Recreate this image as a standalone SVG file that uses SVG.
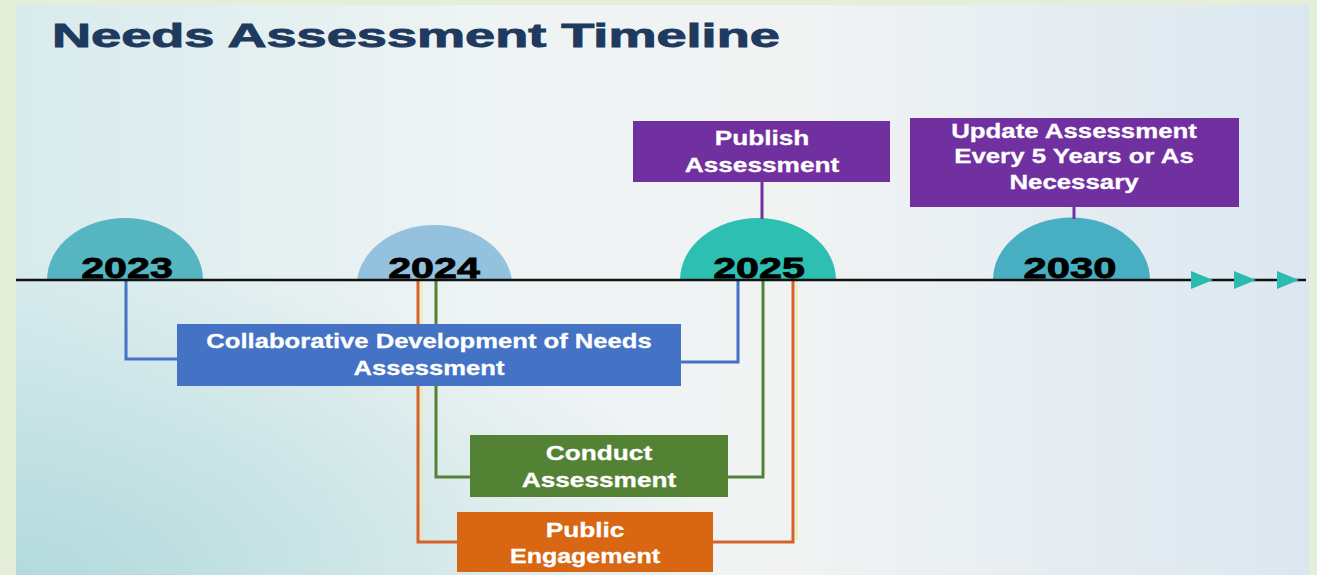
<svg xmlns="http://www.w3.org/2000/svg" width="1317" height="575" viewBox="0 0 1317 575">
  <defs>
    <linearGradient id="bgH" x1="0" y1="0" x2="1" y2="0">
      <stop offset="0" stop-color="#d8ebed"/>
      <stop offset="0.35" stop-color="#eef3f3"/>
      <stop offset="0.6" stop-color="#f1f3f3"/>
      <stop offset="1" stop-color="#dbe7f0"/>
    </linearGradient>
    <radialGradient id="bgTeal" cx="0" cy="1" r="0.55" gradientUnits="objectBoundingBox">
      <stop offset="0" stop-color="#acd7da" stop-opacity="0.85"/>
      <stop offset="1" stop-color="#acd7da" stop-opacity="0"/>
    </radialGradient>
    <style>
      .title { font-family: "Liberation Sans", Arial, sans-serif; font-weight: bold; font-size: 33px; fill: #1f3a5f; stroke: #1f3a5f; stroke-width: 0.9px; }
      .year { font-family: "Liberation Sans", Arial, sans-serif; font-weight: bold; font-size: 29px; fill: #000; stroke: #000; stroke-width: 0.8px; text-anchor: middle; }
      .lbl { font-family: "Liberation Sans", Arial, sans-serif; font-weight: bold; font-size: 20.5px; fill: #ffffff; stroke: #ffffff; stroke-width: 0.3px; text-anchor: middle; }
      .conn { fill: none; stroke-width: 3; stroke-linejoin: miter; }
      .blue { stroke: #4472c4; }
      .green { stroke: #548235; }
      .orange { stroke: #d4622a; }
      .yellow { stroke: #f3ea7a; stroke-width: 1.5; fill: none; opacity: 0.8; }
      .purple { stroke: #7030a0; }
    </style>
  </defs>

  <!-- background -->
  <rect x="0" y="0" width="1317" height="575" fill="#e4eed9"/>
  <rect x="16" y="5" width="1293" height="570" fill="url(#bgH)"/>
  <rect x="16" y="5" width="1293" height="570" fill="url(#bgTeal)"/>

  <text class="title" transform="translate(52,47) scale(1.64,1)">Needs Assessment Timeline</text>

  <!-- year markers -->
  <g id="y2023">
    <path d="M47,280 A78,62 0 0 1 203,280 Z" fill="#55b5c1"/>
  </g>
  <g id="y2024">
    <path d="M357,280 A78,62 0 0 1 512,280 Z" fill="#94c1de"/>
  </g>
  <g id="y2025">
    <path d="M680,280 A78,62 0 0 1 836,280 Z" fill="#2dc0b2"/>
  </g>
  <g id="y2030">
    <path d="M993,280 A78,62 0 0 1 1150,280 Z" fill="#48afc3"/>
  </g>

  <!-- connectors -->
  <g id="connectors">
    <path class="conn purple" d="M762,182 V219"/>
    <path class="conn purple" d="M1074,207 V219"/>
    <path class="yellow" d="M421.5,281 V540 M796.5,281 V540"/>
    <path class="conn orange" d="M418,281 V542 H457 M713,542 H793 V281"/>
    <path class="conn green" d="M436,281 V477 H470 M728,477 H763 V281"/>
    <path class="conn blue" d="M126,281 V359 H177 M681,362 H738 V281"/>
  </g>

  <!-- timeline -->
  <g id="timeline">
    <line x1="16" y1="280" x2="1306" y2="280" stroke="#111" stroke-width="2.4"/>
    <polygon points="1191,271 1213,280 1191,289" fill="#2bbbb0"/>
    <polygon points="1234,271 1256,280 1234,289" fill="#2bbbb0"/>
    <polygon points="1277,271 1299,280 1277,289" fill="#2bbbb0"/>
  </g>

  <text class="year" transform="translate(127,278) scale(1.42,1)">2023</text>
  <text class="year" transform="translate(434,278) scale(1.42,1)">2024</text>
  <text class="year" transform="translate(759,278) scale(1.42,1)">2025</text>
  <text class="year" transform="translate(1070,278) scale(1.44,1)">2030</text>

  <!-- boxes -->
  <g id="publish">
    <rect x="633" y="121" width="257" height="61" fill="#7030a0"/>
    <text class="lbl" transform="translate(762,145) scale(1.28,1)">Publish</text>
    <text class="lbl" transform="translate(762,172) scale(1.28,1)">Assessment</text>
  </g>
  <g id="update">
    <rect x="910" y="118" width="329" height="89" fill="#7030a0"/>
    <text class="lbl" transform="translate(1074,138) scale(1.26,1)">Update Assessment</text>
    <text class="lbl" transform="translate(1074,163) scale(1.26,1)">Every 5 Years or As</text>
    <text class="lbl" transform="translate(1074,189) scale(1.26,1)">Necessary</text>
  </g>
  <g id="collab">
    <rect x="177" y="324" width="504" height="62" fill="#4472c4"/>
    <text class="lbl" transform="translate(429,348) scale(1.25,1)">Collaborative Development of Needs</text>
    <text class="lbl" transform="translate(429,375) scale(1.25,1)">Assessment</text>
  </g>
  <g id="conduct">
    <rect x="470" y="435" width="258" height="62" fill="#548235"/>
    <text class="lbl" transform="translate(599,460) scale(1.28,1)">Conduct</text>
    <text class="lbl" transform="translate(599,487) scale(1.28,1)">Assessment</text>
  </g>
  <g id="public">
    <rect x="457" y="512" width="256" height="60" fill="#d86613"/>
    <text class="lbl" transform="translate(585,537) scale(1.28,1)">Public</text>
    <text class="lbl" transform="translate(585,563) scale(1.22,1)">Engagement</text>
  </g>
</svg>
